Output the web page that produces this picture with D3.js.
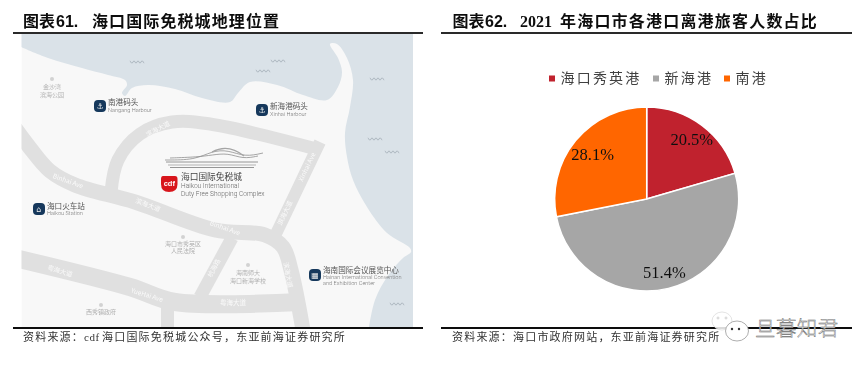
<!DOCTYPE html>
<html>
<head>
<meta charset="utf-8">
<script src="https://cdn.jsdelivr.net/npm/d3@7"></script>
<style>
  html, body { margin: 0; padding: 0; background: #fff; }
  svg { display: block; }
</style>
</head>
<body>
<div id="vis"></div>
<script>
// pie values
const ports = ["海口秀英港", "新海港", "南港"];
const shares = [20.5, 51.4, 28.1];
const portColors = ["#c0232f", "#a6a6a6", "#ff6600"];

const width = 865;
const height = 366;
const serif = '"Liberation Serif", serif';
const sans = '"Liberation Sans", sans-serif';
const cjk = '"Noto Sans CJK SC", sans-serif';

const svg = d3
  .select("#vis")
  .append("svg")
  .attr("width", width)
  .attr("height", height)
  .attr("font-family", cjk);

const defs = svg.append("defs");
defs.append("filter").attr("id", "soft").append("feGaussianBlur").attr("stdDeviation", 0.55);
defs.append("filter").attr("id", "softer").append("feGaussianBlur").attr("stdDeviation", 0.3);
defs.append("clipPath").attr("id", "mapClip")
  .append("rect").attr("x", 21.5).attr("y", 34).attr("width", 391.5).attr("height", 293);

////////// map //////////

const line = d3.line().curve(d3.curveCatmullRom.alpha(0.5));

const coast = [[21, 47], [48, 58], [82, 68], [108, 75], [125, 80], [127, 85], [122, 93], [125, 96], [132, 88],
  [148, 85], [175, 89], [202, 98], [230, 102], [238, 93], [250, 82], [277, 85], [303, 95], [327, 100],
  [338, 87], [342, 72], [338, 58], [330, 44], [337, 44], [347, 58], [353, 80], [350, 107], [345, 133],
  [347, 157], [353, 180], [367, 207], [387, 233], [410, 248], [411, 252], [403, 258], [387, 277], [375, 300], [369, 327]];

const roads = [
  { w: 15, pts: [[15, 128], [30, 148], [50, 171], [75, 185], [135, 202], [215, 230], [265, 235], [283, 247], [291, 270], [303, 330]] },
  { w: 13, pts: [[111, 192], [118, 160], [140, 134], [172, 122], [210, 124], [320, 150]] },
  { w: 12, pts: [[320, 142], [297, 190], [274, 238]] },
  { w: 18, pts: [[15, 258], [130, 287], [175, 302], [300, 302]] },
  { w: 13, pts: [[167.5, 300], [167.5, 330]] },
  { w: 13, pts: [[232, 238], [200, 297]] }
];

const roadLabels = [
  ["滨海大道", 158, 129, -28], ["Binhai Ave", 68, 181, 20], ["滨海大道", 148, 205, 22], ["Binhai Ave", 225, 228, 20],
  ["Xinhai Ave", 307, 167, -65], ["滨海大道", 285, 213, -65], ["滨海大道", 288, 275, 80], ["粤海大道", 60, 271, 17],
  ["YueHai Ave", 147, 295, 17], ["粤海大道", 233, 303, 0], ["杭海路", 214, 268, -62]
];

const places = [
  { dot: [52, 79], names: [["金沙湾", 87], ["滨海公园", 94.5]] },
  { dot: [183, 237], names: [["海口市秀英区", 243.5], ["人民法院", 251]] },
  { dot: [248, 265], names: [["海南师大", 273], ["海口新海学校", 280.5]] },
  { dot: [101, 305], names: [["西秀镇政府", 312]] }
];

const waves = [[137, 62], [278, 61], [263, 71], [377, 79], [375, 139], [392, 152], [397, 304]];

const map = svg.append("g").attr("clip-path", "url(#mapClip)").append("g").attr("filter", "url(#soft)");

map.append("rect").attr("x", 21.5).attr("y", 34).attr("width", 391.5).attr("height", 293).attr("fill", "#f8f8f8");
map.append("path").attr("d", line(coast) + "L413,327L413,34L21,34Z").attr("fill", "#dae2e8");

map.selectAll(".road")
  .data(roads)
  .enter()
  .append("path")
  .attr("class", "road")
  .attr("d", (d) => line(d.pts))
  .attr("fill", "none")
  .attr("stroke", "#e0e0e0")
  .attr("stroke-width", (d) => d.w);

map.selectAll(".roadLabel")
  .data(roadLabels)
  .enter()
  .append("text")
  .attr("class", "roadLabel")
  .attr("transform", (d) => "translate(" + d[1] + "," + d[2] + ") rotate(" + d[3] + ")")
  .attr("text-anchor", "middle")
  .attr("dy", "0.35em")
  .attr("font-size", 6.5)
  .attr("fill", "#fafafa")
  .text((d) => d[0]);

waves.forEach(function (w) {
  map.append("path")
    .attr("d", d3.line().curve(d3.curveMonotoneX)([-7, -5, -3, -1, 1, 3, 5, 7].map((dx, i) => [w[0] + dx, w[1] + (i % 2 ? 1.2 : -1.2)])))
    .attr("fill", "none")
    .attr("stroke", "#9aa4ad")
    .attr("stroke-width", 0.7);
});

places.forEach(function (p) {
  map.append("circle").attr("cx", p.dot[0]).attr("cy", p.dot[1]).attr("r", 2).attr("fill", "#d2d2d2");
  p.names.forEach(function (n) {
    map.append("text")
      .attr("x", p.dot[0])
      .attr("y", n[1])
      .attr("text-anchor", "middle")
      .attr("dy", "0.35em")
      .attr("font-size", 6)
      .attr("fill", "#b0b0b0")
      .text(n[0]);
  });
});

// navy markers
const markers = [
  { x: 100, y: 106, glyph: "⚓", cn: "南港码头", cnY: 102.5, en: [["Nangang Harbour", 110]] },
  { x: 262, y: 110, glyph: "⚓", cn: "新海港码头", cnY: 106.5, en: [["Xinhai Harbour", 114.5]] },
  { x: 39, y: 209, glyph: "⌂", cn: "海口火车站", cnY: 206, en: [["Haikou Station", 213.5]] },
  { x: 315, y: 275, glyph: "▦", cn: "海南国际会议展览中心", cnY: 270.5, en: [["Hainan International Convention", 277.5], ["and Exhibition Center", 283.5]] }
];

markers.forEach(function (m) {
  map.append("rect")
    .attr("x", m.x - 6).attr("y", m.y - 6)
    .attr("width", 12).attr("height", 12).attr("rx", 4)
    .attr("fill", "#16395c");
  map.append("text")
    .attr("x", m.x).attr("y", m.y).attr("dy", "0.35em")
    .attr("text-anchor", "middle").attr("font-size", 8).attr("fill", "#f0f0f0")
    .attr("font-family", '"DejaVu Sans"')
    .text(m.glyph);
  map.append("text")
    .attr("x", m.x + 8).attr("y", m.cnY).attr("dy", "0.35em")
    .attr("font-size", 7.6).attr("fill", "#555")
    .text(m.cn);
  m.en.forEach(function (e) {
    map.append("text")
      .attr("x", m.x + 8).attr("y", e[1]).attr("dy", "0.35em")
      .attr("font-family", '"Roboto"').attr("font-weight", 300)
      .attr("font-size", 5.6).attr("fill", "#777")
      .text(e[0]);
  });
});

// duty free complex
const roof = d3.line().curve(d3.curveBasis);
[
  [[165, 160], [195, 160], [212, 151], [228, 150], [245, 157], [263, 153]],
  [[170, 158], [198, 157], [212, 155], [228, 153], [243, 159], [258, 156]]
].forEach(function (pts) {
  map.append("path").attr("d", roof(pts)).attr("fill", "none").attr("stroke", "#8f8f8f").attr("stroke-width", 0.8);
});
map.append("path").attr("d", "M212,152Q228,143 244,156").attr("fill", "none").attr("stroke", "#a5a5a5").attr("stroke-width", 1.2);
[162, 165, 167.5].forEach(function (y, i) {
  map.append("line")
    .attr("x1", 166 + i * 2).attr("x2", 258 - i * 2)
    .attr("y1", y).attr("y2", y)
    .attr("stroke", i == 1 ? "#aaa" : "#8a8a8a")
    .attr("stroke-width", 0.9);
});

map.append("path")
  .attr("d", "M163,176H175Q177.5,176 177.5,179V184Q177.5,192 169,192Q161,192 161,184V179Q161,176 163,176Z")
  .attr("fill", "#d8171f");
map.append("text")
  .attr("x", 169.3).attr("y", 183.5).attr("dy", "0.35em")
  .attr("text-anchor", "middle").attr("font-family", sans).attr("font-weight", 700)
  .attr("font-size", 7.5).attr("fill", "#fff")
  .text("cdf");
map.append("text").attr("x", 181).attr("y", 177).attr("dy", "0.35em")
  .attr("font-size", 8.7).attr("fill", "#444").text("海口国际免税城");
map.append("text").attr("x", 181).attr("y", 185.5).attr("dy", "0.35em")
  .attr("font-family", '"Roboto"').attr("font-weight", 300).attr("font-size", 6.6).attr("fill", "#666").text("Haikou International");
map.append("text").attr("x", 181).attr("y", 193.5).attr("dy", "0.35em")
  .attr("font-family", '"Roboto"').attr("font-weight", 300).attr("font-size", 6.6).attr("fill", "#666").text("Duty Free Shopping Complex");

////////// frames and titles //////////

const frame = svg.append("g").attr("filter", "url(#softer)");

[[13, 423], [441, 852]].forEach(function (r) {
  [33, 328].forEach(function (y) {
    frame.append("line")
      .attr("x1", r[0]).attr("x2", r[1])
      .attr("y1", y).attr("y2", y)
      .attr("stroke", y == 33 ? "#2a2a2a" : "#111")
      .attr("stroke-width", y == 33 ? 1.8 : 2);
  });
});

function title(parts) {
  parts.forEach(function (p) {
    frame.append("text")
      .attr("x", p.x)
      .attr("y", 27)
      .attr("font-family", p.font)
      .attr("font-weight", 700)
      .attr("font-size", 16)
      .attr("letter-spacing", p.sp || 0)
      .attr("fill", "#111")
      .text(p.t);
  });
}

title([
  { t: "图表", x: 23, font: cjk },
  { t: "61.", x: 56, font: sans },
  { t: "海口国际免税城地理位置", x: 92, font: cjk, sp: 1.1 }
]);
title([
  { t: "图表", x: 452.5, font: cjk },
  { t: "62.", x: 485, font: sans },
  { t: "2021", x: 520, font: serif },
  { t: "年海口市各港口离港旅客人数占比", x: 560, font: cjk, sp: 1.2 }
]);

function source(parts) {
  parts.forEach(function (p) {
    frame.append("text")
      .attr("x", p.x)
      .attr("y", 341)
      .attr("font-family", p.font)
      .attr("font-size", 11)
      .attr("letter-spacing", p.sp)
      .attr("fill", "#333")
      .text(p.t);
  });
}

source([
  { t: "资料来源：", x: 23, font: cjk, sp: 1.2 },
  { t: "cdf", x: 84, font: serif, sp: 0.6 },
  { t: "海口国际免税城公众号，东亚前海证券研究所", x: 102, font: cjk, sp: 1.2 }
]);
source([{ t: "资料来源：海口市政府网站，东亚前海证券研究所", x: 452, font: cjk, sp: 1.2 }]);

////////// pie //////////

const color = d3.scaleOrdinal().domain(ports).range(portColors);
const radius = 92;
const labelRadii = [75, 75, 70];

const pie = d3.pie().sort(null).value((d) => d.share);
const arc = d3.arc().innerRadius(0).outerRadius(radius);
const rows = d3.zip(ports, shares).map((d) => ({ port: d[0], share: d[1] }));

const chart = svg.append("g").attr("transform", "translate(646.7,199)").attr("filter", "url(#softer)");

chart.selectAll(".slice")
  .data(pie(rows))
  .enter()
  .append("path")
  .attr("class", "slice")
  .attr("d", arc)
  .attr("fill", (d) => color(d.data.port))
  .attr("stroke", "#fff")
  .attr("stroke-width", 1.5);

chart.selectAll(".share")
  .data(pie(rows))
  .enter()
  .append("text")
  .attr("class", "share")
  .attr("transform", function (d, i) {
    const c = d3.arc().innerRadius(labelRadii[i]).outerRadius(labelRadii[i]).centroid(d);
    return "translate(" + c + ")";
  })
  .attr("text-anchor", "middle")
  .attr("dy", "0.35em")
  .attr("font-family", serif)
  .attr("font-size", 16.5)
  .attr("fill", "#111")
  .text((d) => d.data.share.toFixed(1) + "%");

// legend
const legendX = [549, 653, 724];

const legend = svg.append("g").attr("filter", "url(#softer)")
  .selectAll(".legend")
  .data(ports)
  .enter()
  .append("g")
  .attr("class", "legend")
  .attr("transform", (d, i) => "translate(" + legendX[i] + ",78.5)");

legend.append("rect")
  .attr("y", -3)
  .attr("width", 6)
  .attr("height", 6)
  .attr("fill", (d) => color(d));

legend.append("text")
  .attr("x", 11.5)
  .attr("dy", "0.35em")
  .attr("font-size", 14)
  .attr("letter-spacing", 2.2)
  .attr("fill", "#404040")
  .text((d) => d);

////////// watermark //////////

const mark = svg.append("g");

mark.append("ellipse").attr("cx", 722).attr("cy", 321).attr("rx", 10).attr("ry", 9)
  .attr("fill", "#fff").attr("fill-opacity", 0.85).attr("stroke", "#ddd").attr("stroke-width", 0.8);
mark.append("ellipse").attr("cx", 737).attr("cy", 331).attr("rx", 11.5).attr("ry", 10)
  .attr("fill", "#fff").attr("stroke", "#999").attr("stroke-width", 0.8);
[[732, 329], [739, 329]].forEach(function (d) {
  mark.append("circle").attr("cx", d[0]).attr("cy", d[1]).attr("r", 1.2).attr("fill", "#333");
});
[[718, 318], [726, 318]].forEach(function (d) {
  mark.append("circle").attr("cx", d[0]).attr("cy", d[1]).attr("r", 1).attr("fill", "none").attr("stroke", "#bbb").attr("stroke-width", 0.6);
});

mark.append("text")
  .attr("x", 755)
  .attr("y", 329)
  .attr("dy", "0.35em")
  .attr("font-size", 20.5)
  .attr("letter-spacing", 0.4)
  .attr("font-weight", 300)
  .attr("fill", "#fff")
  .attr("stroke", "#666")
  .attr("stroke-width", 0.45)
  .text("旦暮知君");
</script>
</body>
</html>
